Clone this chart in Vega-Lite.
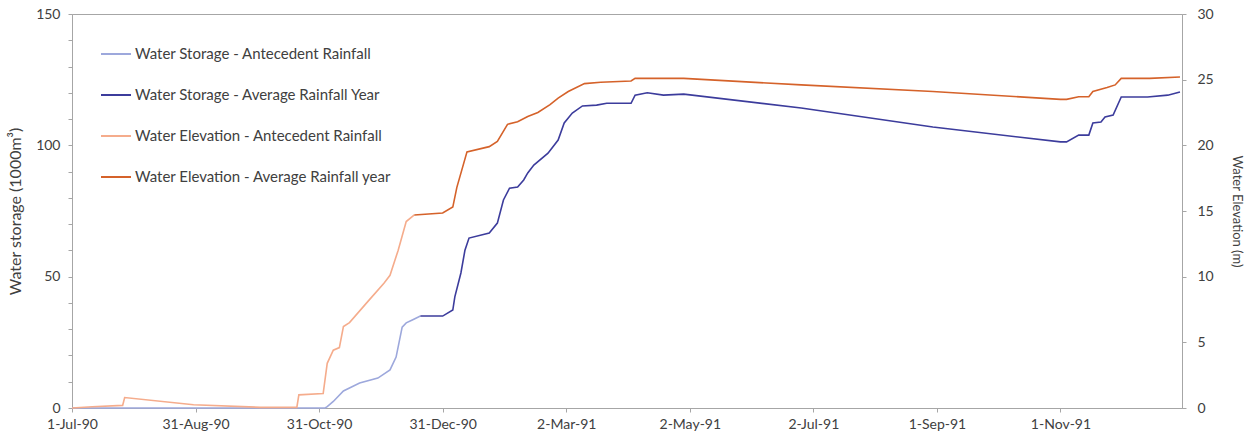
{
  "$schema": "https://vega.github.io/schema/vega-lite/v6.json",
  "width": 1110,
  "height": 394,
  "autosize": {"type": "none"},
  "padding": {"left": 72, "top": 14, "right": 70, "bottom": 38},
  "background": "white",
  "config": {
    "font": "Lato",
    "view": {"stroke": "#A6A6A6", "strokeWidth": 1},
    "axis": {"grid": false, "domainColor": "#A6A6A6", "tickColor": "#A6A6A6", "labelColor": "#404040", "titleColor": "#404040", "labelFontSize": 14, "titleFontSize": 13, "titleFontWeight": "normal", "labelFont": "Lato", "titleFont": "Lato", "tickSize": 4}
  },
  "data": {
    "values": [
      {"date": "1990-07-01", "series": "Water Storage - Antecedent Rainfall", "value": 0},
      {"date": "1990-11-03", "series": "Water Storage - Antecedent Rainfall", "value": 0},
      {"date": "1990-11-04", "series": "Water Storage - Antecedent Rainfall", "value": 0.5},
      {"date": "1990-11-07", "series": "Water Storage - Antecedent Rainfall", "value": 2.5},
      {"date": "1990-11-12", "series": "Water Storage - Antecedent Rainfall", "value": 6.5},
      {"date": "1990-11-20", "series": "Water Storage - Antecedent Rainfall", "value": 9.5},
      {"date": "1990-11-29", "series": "Water Storage - Antecedent Rainfall", "value": 11.4},
      {"date": "1990-12-05", "series": "Water Storage - Antecedent Rainfall", "value": 14.5},
      {"date": "1990-12-08", "series": "Water Storage - Antecedent Rainfall", "value": 19.4},
      {"date": "1990-12-11", "series": "Water Storage - Antecedent Rainfall", "value": 30.8},
      {"date": "1990-12-13", "series": "Water Storage - Antecedent Rainfall", "value": 32.4},
      {"date": "1990-12-16", "series": "Water Storage - Antecedent Rainfall", "value": 33.5},
      {"date": "1990-12-20", "series": "Water Storage - Antecedent Rainfall", "value": 35},

      {"date": "1990-12-20", "series": "Water Storage - Average Rainfall Year", "value": 35},
      {"date": "1990-12-31", "series": "Water Storage - Average Rainfall Year", "value": 35},
      {"date": "1991-01-05", "series": "Water Storage - Average Rainfall Year", "value": 37.3},
      {"date": "1991-01-06", "series": "Water Storage - Average Rainfall Year", "value": 42.3},
      {"date": "1991-01-09", "series": "Water Storage - Average Rainfall Year", "value": 51.4},
      {"date": "1991-01-11", "series": "Water Storage - Average Rainfall Year", "value": 60.1},
      {"date": "1991-01-13", "series": "Water Storage - Average Rainfall Year", "value": 64.7},
      {"date": "1991-01-23", "series": "Water Storage - Average Rainfall Year", "value": 66.6},
      {"date": "1991-01-27", "series": "Water Storage - Average Rainfall Year", "value": 70.4},
      {"date": "1991-01-30", "series": "Water Storage - Average Rainfall Year", "value": 79.2},
      {"date": "1991-02-02", "series": "Water Storage - Average Rainfall Year", "value": 83.7},
      {"date": "1991-02-06", "series": "Water Storage - Average Rainfall Year", "value": 84.1},
      {"date": "1991-02-09", "series": "Water Storage - Average Rainfall Year", "value": 86.8},
      {"date": "1991-02-11", "series": "Water Storage - Average Rainfall Year", "value": 89.5},
      {"date": "1991-02-14", "series": "Water Storage - Average Rainfall Year", "value": 92.5},
      {"date": "1991-02-21", "series": "Water Storage - Average Rainfall Year", "value": 97},
      {"date": "1991-02-26", "series": "Water Storage - Average Rainfall Year", "value": 102},
      {"date": "1991-03-01", "series": "Water Storage - Average Rainfall Year", "value": 108.5},
      {"date": "1991-03-05", "series": "Water Storage - Average Rainfall Year", "value": 112.3},
      {"date": "1991-03-10", "series": "Water Storage - Average Rainfall Year", "value": 115},
      {"date": "1991-03-17", "series": "Water Storage - Average Rainfall Year", "value": 115.3},
      {"date": "1991-03-22", "series": "Water Storage - Average Rainfall Year", "value": 116},
      {"date": "1991-04-03", "series": "Water Storage - Average Rainfall Year", "value": 116},
      {"date": "1991-04-05", "series": "Water Storage - Average Rainfall Year", "value": 119.1},
      {"date": "1991-04-11", "series": "Water Storage - Average Rainfall Year", "value": 120},
      {"date": "1991-04-19", "series": "Water Storage - Average Rainfall Year", "value": 119.1},
      {"date": "1991-04-29", "series": "Water Storage - Average Rainfall Year", "value": 119.5},
      {"date": "1991-06-26", "series": "Water Storage - Average Rainfall Year", "value": 114.2},
      {"date": "1991-08-30", "series": "Water Storage - Average Rainfall Year", "value": 107},
      {"date": "1991-11-01", "series": "Water Storage - Average Rainfall Year", "value": 101.3},
      {"date": "1991-11-04", "series": "Water Storage - Average Rainfall Year", "value": 101.3},
      {"date": "1991-11-10", "series": "Water Storage - Average Rainfall Year", "value": 103.9},
      {"date": "1991-11-15", "series": "Water Storage - Average Rainfall Year", "value": 103.9},
      {"date": "1991-11-17", "series": "Water Storage - Average Rainfall Year", "value": 108.5},
      {"date": "1991-11-21", "series": "Water Storage - Average Rainfall Year", "value": 108.9},
      {"date": "1991-11-23", "series": "Water Storage - Average Rainfall Year", "value": 110.8},
      {"date": "1991-11-27", "series": "Water Storage - Average Rainfall Year", "value": 111.5},
      {"date": "1991-12-01", "series": "Water Storage - Average Rainfall Year", "value": 118.4},
      {"date": "1991-12-14", "series": "Water Storage - Average Rainfall Year", "value": 118.4},
      {"date": "1991-12-24", "series": "Water Storage - Average Rainfall Year", "value": 119.1},
      {"date": "1991-12-30", "series": "Water Storage - Average Rainfall Year", "value": 120.3},

      {"date": "1990-07-01", "series": "Water Elevation - Antecedent Rainfall", "value": 0},
      {"date": "1990-07-11", "series": "Water Elevation - Antecedent Rainfall", "value": 0.1},
      {"date": "1990-07-26", "series": "Water Elevation - Antecedent Rainfall", "value": 0.2},
      {"date": "1990-07-27", "series": "Water Elevation - Antecedent Rainfall", "value": 0.8},
      {"date": "1990-08-30", "series": "Water Elevation - Antecedent Rainfall", "value": 0.25},
      {"date": "1990-10-02", "series": "Water Elevation - Antecedent Rainfall", "value": 0.05},
      {"date": "1990-10-20", "series": "Water Elevation - Antecedent Rainfall", "value": 0.05},
      {"date": "1990-10-21", "series": "Water Elevation - Antecedent Rainfall", "value": 1.0},
      {"date": "1990-11-02", "series": "Water Elevation - Antecedent Rainfall", "value": 1.1},
      {"date": "1990-11-04", "series": "Water Elevation - Antecedent Rainfall", "value": 3.4},
      {"date": "1990-11-07", "series": "Water Elevation - Antecedent Rainfall", "value": 4.4},
      {"date": "1990-11-10", "series": "Water Elevation - Antecedent Rainfall", "value": 4.6},
      {"date": "1990-11-12", "series": "Water Elevation - Antecedent Rainfall", "value": 6.2},
      {"date": "1990-11-15", "series": "Water Elevation - Antecedent Rainfall", "value": 6.5},
      {"date": "1990-11-24", "series": "Water Elevation - Antecedent Rainfall", "value": 8.1},
      {"date": "1990-12-02", "series": "Water Elevation - Antecedent Rainfall", "value": 9.5},
      {"date": "1990-12-05", "series": "Water Elevation - Antecedent Rainfall", "value": 10.1},
      {"date": "1990-12-09", "series": "Water Elevation - Antecedent Rainfall", "value": 12},
      {"date": "1990-12-13", "series": "Water Elevation - Antecedent Rainfall", "value": 14.2},
      {"date": "1990-12-17", "series": "Water Elevation - Antecedent Rainfall", "value": 14.7},

      {"date": "1990-12-17", "series": "Water Elevation - Average Rainfall year", "value": 14.7},
      {"date": "1990-12-31", "series": "Water Elevation - Average Rainfall year", "value": 14.85},
      {"date": "1991-01-05", "series": "Water Elevation - Average Rainfall year", "value": 15.3},
      {"date": "1991-01-07", "series": "Water Elevation - Average Rainfall year", "value": 16.8},
      {"date": "1991-01-12", "series": "Water Elevation - Average Rainfall year", "value": 19.5},
      {"date": "1991-01-23", "series": "Water Elevation - Average Rainfall year", "value": 19.9},
      {"date": "1991-01-27", "series": "Water Elevation - Average Rainfall year", "value": 20.3},
      {"date": "1991-02-01", "series": "Water Elevation - Average Rainfall year", "value": 21.6},
      {"date": "1991-02-06", "series": "Water Elevation - Average Rainfall year", "value": 21.8},
      {"date": "1991-02-11", "series": "Water Elevation - Average Rainfall year", "value": 22.2},
      {"date": "1991-02-16", "series": "Water Elevation - Average Rainfall year", "value": 22.5},
      {"date": "1991-02-22", "series": "Water Elevation - Average Rainfall year", "value": 23.1},
      {"date": "1991-02-26", "series": "Water Elevation - Average Rainfall year", "value": 23.6},
      {"date": "1991-03-03", "series": "Water Elevation - Average Rainfall year", "value": 24.1},
      {"date": "1991-03-11", "series": "Water Elevation - Average Rainfall year", "value": 24.7},
      {"date": "1991-03-19", "series": "Water Elevation - Average Rainfall year", "value": 24.8},
      {"date": "1991-04-03", "series": "Water Elevation - Average Rainfall year", "value": 24.9},
      {"date": "1991-04-05", "series": "Water Elevation - Average Rainfall year", "value": 25.1},
      {"date": "1991-04-29", "series": "Water Elevation - Average Rainfall year", "value": 25.1},
      {"date": "1991-06-26", "series": "Water Elevation - Average Rainfall year", "value": 24.6},
      {"date": "1991-08-30", "series": "Water Elevation - Average Rainfall year", "value": 24.1},
      {"date": "1991-11-01", "series": "Water Elevation - Average Rainfall year", "value": 23.5},
      {"date": "1991-11-04", "series": "Water Elevation - Average Rainfall year", "value": 23.5},
      {"date": "1991-11-10", "series": "Water Elevation - Average Rainfall year", "value": 23.7},
      {"date": "1991-11-15", "series": "Water Elevation - Average Rainfall year", "value": 23.7},
      {"date": "1991-11-17", "series": "Water Elevation - Average Rainfall year", "value": 24.1},
      {"date": "1991-11-24", "series": "Water Elevation - Average Rainfall year", "value": 24.4},
      {"date": "1991-11-28", "series": "Water Elevation - Average Rainfall year", "value": 24.6},
      {"date": "1991-12-01", "series": "Water Elevation - Average Rainfall year", "value": 25.1},
      {"date": "1991-12-15", "series": "Water Elevation - Average Rainfall year", "value": 25.1},
      {"date": "1991-12-30", "series": "Water Elevation - Average Rainfall year", "value": 25.2}
    ]
  },
  "encoding": {
    "x": {
      "field": "date",
      "type": "temporal",
      "scale": {"type": "utc", "domain": [{"year": 1990, "month": 7, "date": 1, "utc": true}, {"year": 1991, "month": 12, "date": 31, "utc": true}]},
      "axis": {
        "title": null,
        "values": [
          {"year": 1990, "month": 7, "date": 1, "utc": true},
          {"year": 1990, "month": 8, "date": 31, "utc": true},
          {"year": 1990, "month": 10, "date": 31, "utc": true},
          {"year": 1990, "month": 12, "date": 31, "utc": true},
          {"year": 1991, "month": 3, "date": 2, "utc": true},
          {"year": 1991, "month": 5, "date": 2, "utc": true},
          {"year": 1991, "month": 7, "date": 2, "utc": true},
          {"year": 1991, "month": 9, "date": 1, "utc": true},
          {"year": 1991, "month": 11, "date": 1, "utc": true}
        ],
        "labelExpr": "utcFormat(datum.value, '%-d-%b-%y')",
        "labelOverlap": false,
        "labelPadding": 5,
        "labelFlush": false
      }
    },
    "color": {
      "field": "series",
      "type": "nominal",
      "scale": {
        "domain": ["Water Storage - Antecedent Rainfall", "Water Storage - Average Rainfall Year", "Water Elevation - Antecedent Rainfall", "Water Elevation - Average Rainfall year"],
        "range": ["#9DA8DC", "#3C3C9C", "#F5AC8C", "#D5622A"]
      },
      "sort": null,
      "legend": {
        "title": null,
        "orient": "none",
        "legendX": 28,
        "legendY": 24,
        "symbolType": "stroke",
        "symbolSize": 900,
        "symbolStrokeWidth": 2,
        "labelFontSize": 15,
        "labelFont": "Lato",
        "labelColor": "#404040",
        "labelOffset": 3,
        "rowPadding": 17,
        "padding": 0,
        "labelLimit": 400
      }
    }
  },
  "layer": [
    {
      "transform": [{"filter": {"field": "series", "oneOf": ["Water Storage - Antecedent Rainfall", "Water Storage - Average Rainfall Year"]}}],
      "mark": {"type": "line", "strokeWidth": 1.6, "interpolate": "linear"},
      "encoding": {
        "y": {
          "field": "value",
          "type": "quantitative",
          "scale": {"domain": [0, 150], "nice": false},
          "axis": {
            "title": "Water storage (1000m³)",
            "titleFontSize": 16,
            "orient": "left",
            "values": [0, 10, 20, 30, 40, 50, 60, 70, 80, 90, 100, 110, 120, 130, 140, 150],
            "labelExpr": "datum.value % 50 == 0 ? datum.label : ''",
            "labelPadding": 8,
            "titlePadding": 12
          }
        }
      }
    },
    {
      "transform": [{"filter": {"field": "series", "oneOf": ["Water Elevation - Antecedent Rainfall", "Water Elevation - Average Rainfall year"]}}],
      "mark": {"type": "line", "strokeWidth": 1.6, "interpolate": "linear"},
      "encoding": {
        "y": {
          "field": "value",
          "type": "quantitative",
          "scale": {"domain": [0, 30], "nice": false},
          "axis": {
            "title": "Water Elevation (m)",
            "orient": "right",
            "values": [0, 5, 10, 15, 20, 25, 30],
            "labelPadding": 11,
            "titlePadding": 16
          }
        }
      }
    }
  ],
  "resolve": {"scale": {"y": "independent"}}
}
